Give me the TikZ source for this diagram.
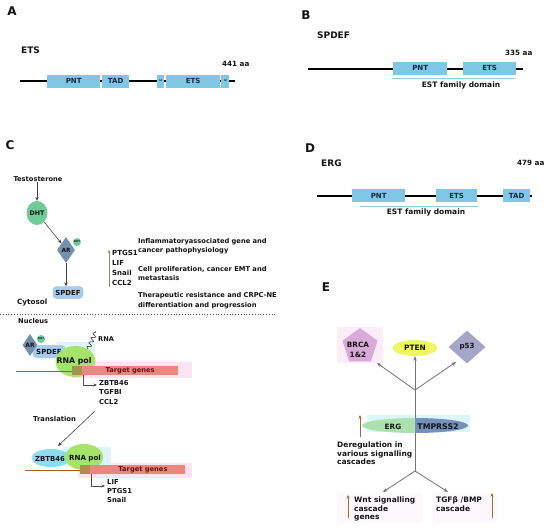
\documentclass[tikz,border=0pt]{standalone}
\usepackage{fontspec}
\setmainfont{DejaVu Sans}
\usetikzlibrary{shapes.geometric,arrows.meta,decorations.pathmorphing}
\definecolor{ink}{RGB}{20,20,20}
\definecolor{domblue}{RGB}{126,200,230}
\definecolor{domtext}{RGB}{20,40,70}
\definecolor{thinblue}{RGB}{150,200,220}
\definecolor{dhtgreen}{RGB}{110,205,150}
\definecolor{arblue}{RGB}{115,145,175}
\definecolor{spdefblue}{RGB}{165,205,240}
\definecolor{spdefedge}{RGB}{130,175,220}
\definecolor{rnagreen}{RGB}{165,228,105}
\definecolor{palecyan}{RGB}{220,245,250}
\definecolor{zbcyan}{RGB}{140,220,240}
\definecolor{salmon}{RGB}{232,135,125}
\definecolor{palepink}{RGB}{253,228,240}
\definecolor{brcabg}{RGB}{252,236,248}
\definecolor{faintpink}{RGB}{254,247,251}
\definecolor{olivec}{RGB}{175,140,80}
\definecolor{dnabrown}{RGB}{160,95,40}
\definecolor{maroon}{RGB}{100,20,20}
\definecolor{greenarr}{RGB}{110,160,90}
\definecolor{dotblue}{RGB}{50,90,170}
\definecolor{brcapink}{RGB}{215,170,215}
\definecolor{ptenyellow}{RGB}{240,245,100}
\definecolor{pgray}{RGB}{165,165,200}
\definecolor{erggreen}{RGB}{170,225,175}
\definecolor{tmblue}{RGB}{115,145,185}
\definecolor{brownarr}{RGB}{150,110,60}
\definecolor{grayline}{RGB}{115,115,115}
\newcommand\myfs[2]{\fontsize{#1}{#2}\selectfont\bfseries}
\begin{document}
\begin{tikzpicture}[x=1pt,y=-1pt,
  every node/.style={inner sep=0pt,text=ink},
  panel/.style={font=\myfs{12}{14}},
  title/.style={font=\myfs{9}{11}},
  sz/.style={font=\myfs{7.2}{8}},
  lbl/.style={font=\myfs{6.7}{9},align=left},
  dom/.style={fill=domblue,minimum height=13pt,font=\myfs{7}{8},text=domtext},
  tiny/.style={font=\myfs{2.6}{3}},
  bbone/.style={line width=2pt,black},
  estline/.style={thinblue,line width=0.7pt},
  thinarr/.style={draw=ink!80,line width=0.6pt,-{Stealth[length=4pt,width=3.4pt]}},
  bent/.style={draw=ink!75,line width=0.6pt,-{Stealth[length=3.5pt,width=3pt]}},
  eline/.style={draw=grayline,line width=0.8pt},
  earr/.style={eline,-{Stealth[length=4.5pt,width=3.6pt]}},
  brarr/.style={draw=brownarr,line width=0.8pt,-{Stealth[length=3.5pt,width=3pt]}},
  elbl/.style={font=\myfs{7.5}{8.8},align=left}
]
\useasboundingbox (0,0) rectangle (550,528);
\fill[white] (0,0) rectangle (550,528);

% ---------------- Panel A ----------------
\node[panel] (pA) at (12,11) {A};
\node[title,anchor=west] (tA) at (21,50) {ETS};
\node[sz,anchor=west] (lenA) at (222,64) {441 aa};
\coordinate (a0) at (20,81); \coordinate (a1) at (235,81);
\draw[bbone] (a0) -- (a1);
\node[dom,minimum width=53pt,anchor=west] (apnt) at (47,81) {PNT};
\node[dom,minimum width=27pt,anchor=west] (atad) at (102,81) {TAD};
\node[dom,minimum width=7pt,anchor=west,tiny] (aid1) at (157,81) {Id};
\node[dom,minimum width=54pt,anchor=west] (aets) at (166,81) {ETS};
\node[dom,minimum width=8pt,anchor=west,tiny] (aid2) at (221,81) {Id};

% ---------------- Panel B ----------------
\node[panel] (pB) at (306,15) {B};
\node[title,anchor=west] (tB) at (317,35) {SPDEF};
\node[sz,anchor=west] (lenB) at (505,53) {335 aa};
\coordinate (b0) at (308,69); \coordinate (b1) at (523,69);
\draw[bbone] (b0) -- (b1);
\node[dom,minimum width=54pt,anchor=west] (bpnt) at (393,68) {PNT};
\node[dom,minimum width=53pt,anchor=west] (bets) at (463,68) {ETS};
\coordinate (be0) at (392,78); \coordinate (be1) at (515,78);
\draw[estline] (be0) -- (be1);
\node[font=\myfs{7.5}{8}] (bfam) at (461,85) {EST family domain};

% ---------------- Panel D ----------------
\node[panel] (pD) at (310,148) {D};
\node[title,anchor=west] (tD) at (321,163) {ERG};
\node[sz,anchor=west] (lenD) at (517,163) {479 aa};
\coordinate (d0) at (317,196); \coordinate (d1) at (532,196);
\draw[bbone] (d0) -- (d1);
\node[dom,minimum width=53pt,anchor=west] (dpnt) at (352,195.5) {PNT};
\node[dom,minimum width=41pt,anchor=west] (dets) at (436,195.5) {ETS};
\node[dom,minimum width=27pt,anchor=west] (dtad) at (503,195.5) {TAD};
\coordinate (de0) at (360,206); \coordinate (de1) at (478,206);
\draw[estline] (de0) -- (de1);
\node[font=\myfs{7.5}{8}] (dfam) at (426,212) {EST family domain};

% ---------------- Panel C ----------------
\node[panel] (pC) at (10,145) {C};
\node[font=\myfs{6.7}{8}] (testo) at (38,179) {Testosterone};
\node[ellipse,fill=dhtgreen,minimum width=19pt,minimum height=24pt,font=\myfs{6.3}{7}] (dht) at (37,213) {DHT};
\draw[thinarr] (testo.south -| dht.north) -- (dht.north);
\node[diamond,fill=arblue,minimum width=18pt,minimum height=26pt,font=\myfs{5.8}{6}] (ar) at (66,250) {AR};
\node[circle,fill=dhtgreen,minimum size=8pt,tiny] (arsm) at (77,242) {DHT};
\draw[thinarr] (dht) -- (ar.north west);
\node[fill=spdefblue,draw=spdefedge,line width=0.4pt,rounded corners=4pt,minimum width=30pt,minimum height=12pt,font=\myfs{6.9}{7}] (cspdef) at (68,292.5) {SPDEF};
\draw[thinarr] (ar.south) -- (ar.south |- cspdef.north);
\coordinate (gbot) at (109,287); \coordinate (gtop) at (109,250);
\draw[draw=greenarr,line width=0.8pt,-{Stealth[length=3pt,width=2.8pt]}] (gbot) -- (gtop);
\node[font=\myfs{7}{10},align=left,anchor=west] (glist) at (112,268) {PTGS1\\LIF\\Snail\\CCL2};
\node[lbl,anchor=west] (d1t) at (138,246.5) {Inflammatoryassociated gene and\\cancer pathophysiology};
\node[lbl,anchor=west] (d2t) at (138,273.5) {Cell proliferation, cancer EMT and\\metastasis};
\node[font=\myfs{6.7}{10.5},align=left,anchor=west] (d3t) at (138,300.5) {Therapeutic resistance and CRPC-NE\\differentiation and progression};
\node[font=\myfs{7.2}{8},anchor=west] (cyto) at (17,303) {Cytosol};
\coordinate (dl0) at (0,314); \coordinate (dl1) at (275,314);
\draw[dotblue,line width=0.8pt,dotted] (dl0) -- (dl1);
\node[font=\myfs{6.7}{8},anchor=west] (nuc) at (18,321) {Nucleus};

% nucleus upper complex
\fill[palepink] (72,362) rectangle (192,378);
\fill[palecyan] (57,342) rectangle (95,370);
\node[fill=spdefblue,rounded corners=4pt,minimum width=33pt,minimum height=13pt,font=\myfs{7}{8}] (nspdef) at (49,351.5) {SPDEF};
\node[diamond,fill=arblue,minimum width=15pt,minimum height=22pt,font=\myfs{6}{6}] (nar) at (30,345) {AR};
\node[circle,fill=dhtgreen,minimum size=8pt,tiny] (nsm) at (41,339) {DHT};
\node[ellipse,fill=rnagreen,minimum width=40pt,minimum height=31pt] (nrna) at (75.5,361.5) {};
\node[font=\myfs{7.8}{8}] (nrnat) at (74,361) {RNA pol};
\coordinate (sq0) at (88,349); \coordinate (sq1) at (96,331);
\draw[ink,line width=0.5pt,decorate,decoration={snake,amplitude=2pt,segment length=5pt}] (sq0) -- (sq1);
\node[font=\myfs{6.6}{7},anchor=west] (rnal) at (98,339) {RNA};
\coordinate (dna0) at (16,371); \coordinate (dna1) at (72,371);
\draw[dnabrown,line width=1pt] (dna0) -- (dna1);
\node[fill=olivec,minimum width=10pt,minimum height=9pt,anchor=west] (olv1) at (72,370.5) {};
\node[fill=salmon,minimum width=96pt,minimum height=9pt,anchor=west,font=\myfs{6.7}{7},text=maroon] (tg1) at (82,370.5) {Target genes};
\coordinate (ba0) at (83,375); \coordinate (ba1) at (97,385);
\draw[bent] (ba0) |- (ba1);
\node[font=\myfs{6.8}{9.3},align=left,anchor=west] (gl1) at (99,392.5) {ZBTB46\\TGFBI\\CCL2};
\node[font=\myfs{6.8}{8},anchor=west] (transl) at (33,419) {Translation};
\coordinate (tr0) at (95,411); \coordinate (tr1) at (58,446);
\draw[thinarr] (tr0) -- (tr1);

% nucleus lower complex
\fill[palepink] (78,463) rectangle (192,478);
\fill[palecyan] (63,447) rectangle (111,466);
\node[ellipse,fill=zbcyan,minimum width=39pt,minimum height=18pt] (zb) at (51,458) {};
\node[ellipse,fill=rnagreen,minimum width=38pt,minimum height=26pt] (nrna2) at (84,457) {};
\node[font=\myfs{6.9}{7}] (zbt) at (50,459) {ZBTB46};
\node[font=\myfs{7.1}{8}] (rna2t) at (85,459) {RNA pol};
\coordinate (dnb0) at (25,470); \coordinate (dnb1) at (80,470);
\draw[dnabrown,line width=1pt] (dnb0) -- (dnb1);
\node[fill=olivec,minimum width=10pt,minimum height=9pt,anchor=west] (olv2) at (80,469.5) {};
\node[fill=salmon,minimum width=95pt,minimum height=9pt,anchor=west] (tg2) at (90,469.5) {};
\node[font=\myfs{6.7}{7},text=maroon] (tg2t) at (143,469.5) {Target genes};
\coordinate (bb0) at (91,474); \coordinate (bb1) at (105,486);
\draw[bent] (bb0) |- (bb1);
\node[font=\myfs{6.8}{9},align=left,anchor=west] (gl2) at (107,491) {LIF\\PTGS1\\Snail};

% ---------------- Panel E ----------------
\node[panel] (pE) at (326,287) {E};
\fill[brcabg] (337,327) rectangle (383,363);
\node[regular polygon,regular polygon sides=5,fill=brcapink,minimum size=37pt] (brca) at (360,346.5) {};
\node[font=\myfs{7.3}{10},align=center] (brcat) at (358,350) {BRCA\\1\&2};
\node[ellipse,fill=ptenyellow,minimum width=45pt,minimum height=16pt,font=\myfs{7.4}{8}] (pten) at (415,348) {PTEN};
\node[diamond,fill=pgray,minimum width=37pt,minimum height=33pt,font=\myfs{7.1}{8}] (p53) at (467,347) {p53};
\coordinate (bt) at (415,390);
\coordinate (bl) at (415,471);
\fill[palecyan] (367,415) rectangle (470,432);
\node[ellipse,minimum width=106pt,minimum height=15pt,
  path picture={\fill[erggreen] (path picture bounding box.south west) rectangle (path picture bounding box.north);
                \fill[tmblue] (path picture bounding box.north) rectangle (path picture bounding box.south east);}] (erg) at (415,425.5) {};
\node[font=\myfs{7.3}{8}] (ergt) at (393,426.5) {ERG};
\node[font=\myfs{7.8}{8}] (tmt) at (438,426.5) {TMPRSS2};
\draw[eline] (erg.north) -- (bt);
\draw[eline] (erg.south) -- (bl);
\draw[earr] (bt) -- (pten.south);
\coordinate (tobrca) at (377,363);
\coordinate (top53) at (456,362);
\draw[earr] (bt) -- (tobrca);
\draw[earr] (bt) -- (top53);
\coordinate (ua0) at (360,437); \coordinate (ua1) at (360,415);
\draw[brarr] (ua0) -- (ua1);
\node[elbl,font=\myfs{7.5}{8.5},anchor=west] (dereg) at (337,453.5) {Deregulation in\\various signalling\\ cascades};
\coordinate (tow) at (383,492); \coordinate (tot) at (448,492);
\draw[earr] (bl) -- (tow);
\draw[earr] (bl) -- (tot);
\fill[faintpink] (337,493) rectangle (422,523);
\fill[faintpink] (433,493) rectangle (497,523);
\coordinate (wa0) at (348,518); \coordinate (wa1) at (348,495);
\draw[brarr] (wa0) -- (wa1);
\node[elbl,anchor=west] (wnt) at (354,509) {Wnt signalling\\cascade\\genes};
\node[elbl,anchor=west] (tgf) at (436,504.5) {TGFβ /BMP\\cascade};
\coordinate (ta0) at (492,518); \coordinate (ta1) at (492,493);
\draw[brarr] (ta0) -- (ta1);
\end{tikzpicture}
\end{document}
